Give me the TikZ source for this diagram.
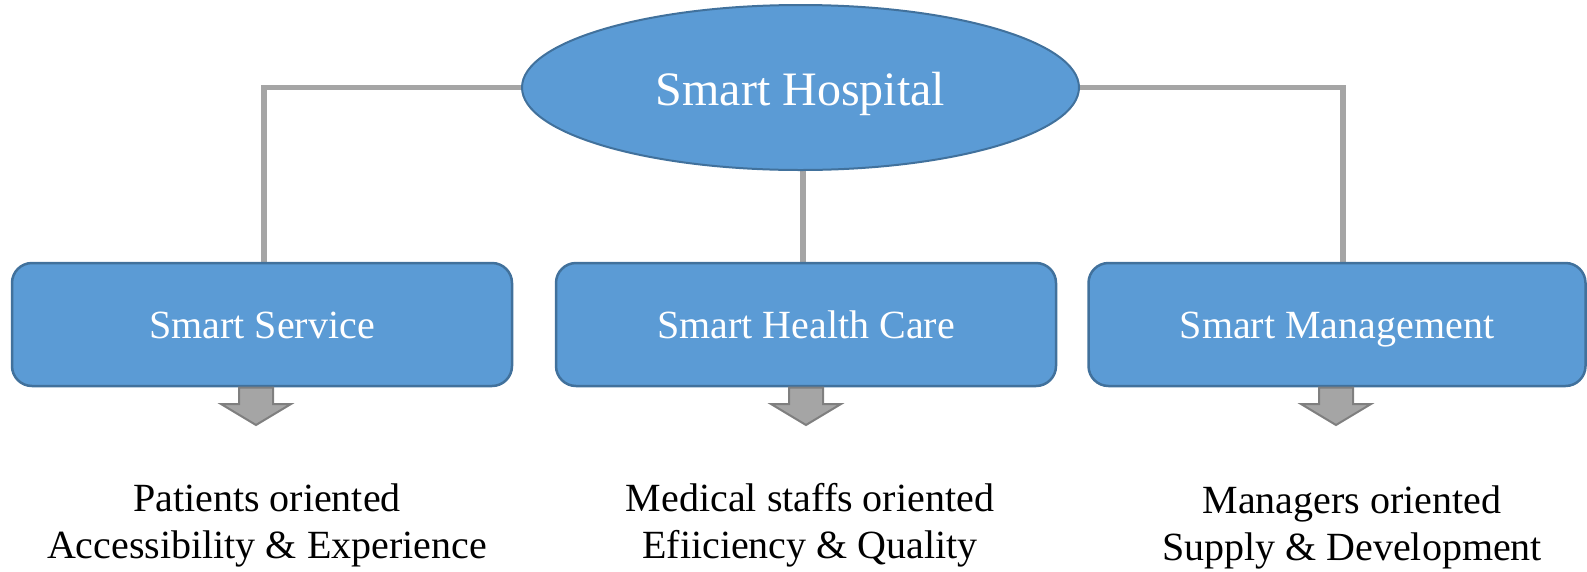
\documentclass[tikz,border=0pt]{standalone}
\usepackage{fontspec}
\setmainfont{Liberation Serif}
\usetikzlibrary{shapes.geometric,backgrounds}
\definecolor{boxfill}{HTML}{5B9BD5}
\definecolor{boxline}{HTML}{41719C}
\definecolor{conn}{HTML}{A5A5A5}
\definecolor{arrline}{HTML}{7F7F7F}
\begin{document}
\begin{tikzpicture}[x=1pt,y=-1pt,
  topnode/.style={ellipse,draw=boxline,fill=boxfill,line width=2pt,minimum width=557pt,minimum height=165pt,inner sep=0pt,text=white,text height=36pt,text depth=0pt,font=\fontsize{48}{54}\selectfont},
  branch/.style={rectangle,rounded corners=20pt,draw=boxline,fill=boxfill,line width=2.5pt,minimum height=123pt,text=white,text height=27pt,text depth=0pt,font=\fontsize{40}{46}\selectfont},
  link/.style={draw=conn,line width=5.5pt},
  blockarrow/.style={fill=conn,draw=arrline,line width=2pt,line join=miter},
  desc/.style={align=center,font=\fontsize{40}{47}\selectfont}]
\useasboundingbox (0,0) rectangle (1587,571);
\node[topnode] (top) at (800.5,87.5) {Smart Hospital};
\node[branch,minimum width=500pt] (b1) at (262,324.5) {Smart Service};
\node[branch,minimum width=500pt] (b2) at (806,324.5) {Smart Health Care};
\node[branch,minimum width=497pt] (b3) at (1337,324.5) {Smart Management};
\begin{pgfonlayer}{background}
\coordinate (k1) at (264,0);
\coordinate (k2) at (803,0);
\coordinate (k3) at (1343,0);
\draw[link] (top.west) -| (k1|-b1.north);
\draw[link] (k2|-top.south) -- (k2|-b2.north);
\draw[link] (top.east) -| (k3|-b3.north);
\end{pgfonlayer}
\foreach \n/\cx in {a1/256,a2/806,a3/1336}{
  \draw[blockarrow] (\cx-17,387.5) -- (\cx+17,387.5) -- (\cx+17,404) -- (\cx+35,404) -- (\cx,425) -- (\cx-35,404) -- (\cx-17,404) -- cycle;
}
\node[desc] (d1) at (267,525) {Patients oriented\\Accessibility \& Experience};
\node[desc] (d2) at (810,525) {Medical staffs oriented\\Efiiciency \& Quality};
\node[desc] (d3) at (1352,527) {Managers oriented\\Supply \& Development};
\end{tikzpicture}
\end{document}
